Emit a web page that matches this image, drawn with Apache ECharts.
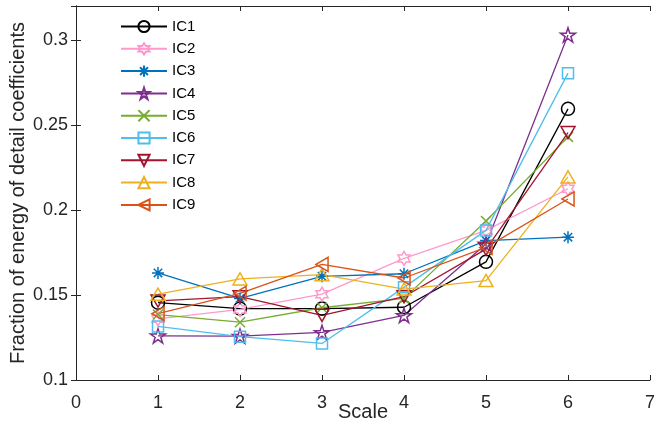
<!DOCTYPE html>
<html>
<head>
<meta charset="utf-8">
<script src="https://cdn.jsdelivr.net/npm/echarts@6/dist/echarts.min.js"></script>
<style>
  html, body { margin: 0; padding: 0; background: #fff; }
  #chart { width: 654px; height: 430px; }
</style>
</head>
<body>
<div id="chart"></div>
<script>
const scales = [1, 2, 3, 4, 5, 6]
const names = ['IC1', 'IC2', 'IC3', 'IC4', 'IC5', 'IC6', 'IC7', 'IC8', 'IC9']
const ic1 = [0.1455, 0.1420, 0.1420, 0.1428, 0.1695, 0.2595]
const ic2 = [0.1360, 0.1415, 0.1505, 0.1715, 0.1880, 0.2125]
const ic3 = [0.1630, 0.1480, 0.1610, 0.1625, 0.1820, 0.1840]
const ic4 = [0.1260, 0.1258, 0.1280, 0.1380, 0.1800, 0.3030]
const ic5 = [0.1385, 0.1340, 0.1425, 0.1480, 0.1935, 0.2430]
const ic6 = [0.1315, 0.1255, 0.1215, 0.1545, 0.1880, 0.2805]
const ic7 = [0.1465, 0.1490, 0.1380, 0.1490, 0.1770, 0.2455]
const ic8 = [0.1505, 0.1595, 0.1620, 0.1535, 0.1585, 0.2195]
const ic9 = [0.1390, 0.1510, 0.1680, 0.1600, 0.1780, 0.2065]
const values = [ic1, ic2, ic3, ic4, ic5, ic6, ic7, ic8, ic9]
const colors = ['#000000', '#ff99cc', '#0072bd', '#7e2f8e', '#77ac30', '#4dbeee', '#a2142f', '#edb120', '#d95319']

// marker outlines (matlab style)
function starPath(points, inner) {
  let d = ''
  for (let i = 0; i < points * 2; i++) {
    const r = i % 2 === 0 ? 1 : inner
    const a = -Math.PI / 2 + i * Math.PI / points
    d += (i === 0 ? 'M' : 'L') + (r * Math.cos(a)).toFixed(3) + ',' + (r * Math.sin(a)).toFixed(3) + ' '
  }
  return 'path://' + d + 'Z'
}
const markers = [
  { symbol: 'circle', size: 13 },
  { symbol: starPath(6, 0.577), size: 14 },
  { symbol: 'path://M0,-1 L0,1 M-1,0 L1,0 M-0.7,-0.7 L0.7,0.7 M-0.7,0.7 L0.7,-0.7', size: 12 },
  { symbol: starPath(5, 0.382), size: 15 },
  { symbol: 'path://M0,0 L1,1 M1,0 L0,1', size: 10 },
  { symbol: 'rect', size: 11 },
  { symbol: 'path://M0,0 L2,0 L1,1.73 Z', size: 14 },
  { symbol: 'path://M1,0 L2,1.73 L0,1.73 Z', size: 14 },
  { symbol: 'path://M0,1 L1.73,0 L1.73,2 Z', size: 14 },
]

const font = '"Liberation Sans", Arial, sans-serif'
const axisColor = '#262626'

const chart = echarts.init(document.getElementById('chart'))

const series = names.map((n, i) => ({
  name: n,
  type: 'line',
  xAxisIndex: 0,
  yAxisIndex: 0,
  data: scales.map((s, j) => [s, values[i][j]]),
  symbol: markers[i].symbol,
  symbolSize: markers[i].size,
  symbolKeepAspect: true,
  showAllSymbol: true,
  color: colors[i],
  lineStyle: { color: colors[i], width: 1.3 },
  itemStyle: { color: 'rgba(255,255,255,0)', borderColor: colors[i], borderWidth: 1.5 },
  emphasis: { disabled: true },
}))

const baseX = {
  type: 'value', min: 0, max: 7, interval: 1,
  axisLine: { show: true, lineStyle: { color: axisColor, width: 1 } },
  axisTick: { show: true, inside: true, length: 5, lineStyle: { color: axisColor } },
  splitLine: { show: false },
}
const baseY = {
  type: 'value', min: 0.1, max: 0.32, interval: 0.05,
  axisLine: { show: true, lineStyle: { color: axisColor, width: 1 } },
  axisTick: { show: true, inside: true, length: 5, lineStyle: { color: axisColor } },
  splitLine: { show: false },
}

chart.setOption({
  animation: false,
  backgroundColor: '#fff',
  grid: { left: 76, right: 4, top: 6, bottom: 50, outerBoundsMode: 'none', containLabel: false },
  legend: {
    orient: 'vertical',
    left: 120,
    top: 19,
    padding: 0,
    itemWidth: 46,
    itemHeight: 14,
    itemGap: 7.3,
    textStyle: { fontFamily: font, fontSize: 15, color: '#000' },
    data: names,
  },
  xAxis: [
    {
      ...baseX, position: 'bottom',
      name: 'Scale', nameLocation: 'middle', nameGap: 22, nameMoveOverlap: false,
      nameTextStyle: { fontFamily: font, fontSize: 20, color: axisColor },
      axisLabel: { fontFamily: font, fontSize: 18, color: axisColor, margin: 14 },
    },
    { ...baseX, position: 'top', axisLabel: { show: false } },
  ],
  yAxis: [
    {
      ...baseY, position: 'left',
      name: 'Fraction of energy of detail coefficients', nameLocation: 'middle', nameGap: 48, nameMoveOverlap: false,
      nameTextStyle: { fontFamily: font, fontSize: 20, color: axisColor },
      axisLabel: { fontFamily: font, fontSize: 18, color: axisColor, margin: 8, showMaxLabel: false },
    },
    { ...baseY, position: 'right', axisLabel: { show: false } },
  ],
  series: series,
})
</script>
</body>
</html>
